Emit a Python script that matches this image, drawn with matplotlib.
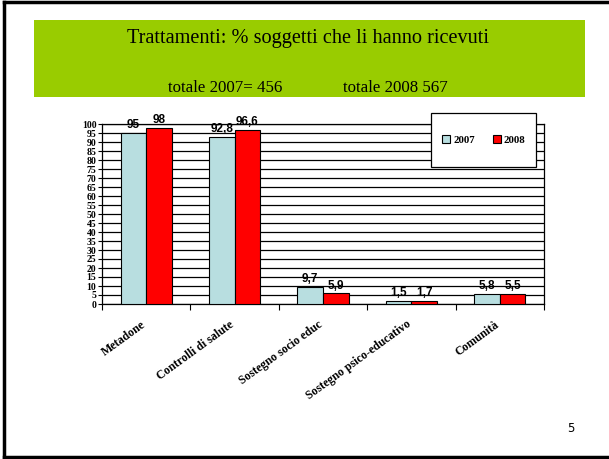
import matplotlib.pyplot as plt
import numpy as np
from matplotlib.patches import Rectangle
from matplotlib.lines import Line2D

categorie = ['Metadone', 'Controlli di salute', 'Sostegno socio educ',
             'Sostegno psico-educativo', 'Comunità']
val_2007 = [95, 92.8, 9.7, 1.5, 5.8]
val_2008 = [98, 96.6, 5.9, 1.7, 5.5]
etichette_2007 = ['95', '92,8', '9,7', '1,5', '5,8']
etichette_2008 = ['98', '96,6', '5,9', '1,7', '5,5']
serie = ['2007', '2008']

azzurro = '#B8DEE0'
rosso = '#FF0000'
verde = '#99CC00'

fig = plt.figure(figsize=(6.09, 4.59), dpi=100)

# cornice della slide
fig.add_artist(Line2D([4 / 609, 4 / 609], [1 - 2 / 459, 1 - 457 / 459], color='black', lw=2.5))
fig.add_artist(Line2D([4 / 609, 1], [1 - 2 / 459, 1 - 2 / 459], color='black', lw=2.5))
fig.add_artist(Line2D([4 / 609, 1], [1 - 457 / 459, 1 - 457 / 459], color='black', lw=2.5))

# riquadro verde del titolo
fig.add_artist(Rectangle((34 / 609, 1 - 97 / 459), (585 - 34) / 609, 77 / 459,
                         facecolor=verde, edgecolor='none'))
fig.text(308 / 609, 1 - 38 / 459, 'Trattamenti: % soggetti che li hanno ricevuti',
         ha='center', va='center', fontsize=14.6, family='Liberation Serif')
fig.text(168 / 609, 1 - 88 / 459, 'totale 2007= 456', ha='left', va='center',
         fontsize=12.2, family='Liberation Serif')
fig.text(343 / 609, 1 - 88 / 459, 'totale 2008 567', ha='left', va='center',
         fontsize=12.2, family='Liberation Serif')
fig.text(571 / 609, 1 - 428 / 459, '5', ha='center', va='center', fontsize=8.5,
         family='DejaVu Sans')

ax = fig.add_axes([102 / 609, 1 - 304 / 459, 442 / 609, 180 / 459])
x = np.arange(len(categorie))
w = 0.29
b1 = ax.bar(x - w / 2, val_2007, w, color=azzurro, edgecolor='black', linewidth=0.8,
            label=serie[0], zorder=3)
b2 = ax.bar(x + w / 2, val_2008, w, color=rosso, edgecolor='black', linewidth=0.8,
            label=serie[1], zorder=3)

for i in range(len(categorie)):
    ax.text(x[i] - w / 2, val_2007[i] + 1.0, etichette_2007[i], ha='center', va='bottom',
            fontsize=8.5, fontweight='bold', family='Liberation Sans')
    ax.text(x[i] + w / 2, val_2008[i] + 1.0, etichette_2008[i], ha='center', va='bottom',
            fontsize=8.5, fontweight='bold', family='Liberation Sans')

ax.set_xlim(-0.5, len(categorie) - 0.5)
ax.set_ylim(0, 100)
ax.set_yticks(range(0, 101, 5))
ax.yaxis.grid(True, color='black', linewidth=0.9, zorder=0)
ax.set_axisbelow(True)
ax.set_xticks(np.arange(-0.5, len(categorie), 1))
ax.set_xticklabels([])
ax.tick_params(axis='x', length=4, width=0.8, direction='out')
ax.tick_params(axis='y', length=3, width=0.8, pad=1)
for lab in ax.get_yticklabels():
    lab.set_fontsize(7)
    lab.set_fontweight('bold')
    lab.set_family('Liberation Serif')
for s in ax.spines.values():
    s.set_linewidth(0.9)

for i, c in enumerate(categorie):
    ax.text(x[i] - 0.06, -8, c, rotation=36, rotation_mode='anchor', ha='right', va='top',
            fontsize=8.6, fontweight='bold', family='Liberation Serif')

# legenda: cornice disegnata a parte
fig.add_artist(Rectangle((431 / 609, 1 - 167 / 459), 105 / 609, 54 / 459,
                         facecolor='white', edgecolor='black', linewidth=0.9, zorder=5))
leg = fig.legend(handles=[b1, b2], labels=serie, loc='center',
                 bbox_to_anchor=(484 / 609, 1 - 140 / 459), ncol=2,
                 prop={'family': 'Liberation Serif', 'weight': 'bold', 'size': 7.8},
                 handlelength=0.7, handleheight=0.7, handletextpad=0.3,
                 columnspacing=1.7, frameon=False)
leg.set_zorder(6)

fig.savefig('out.png', dpi=100)
